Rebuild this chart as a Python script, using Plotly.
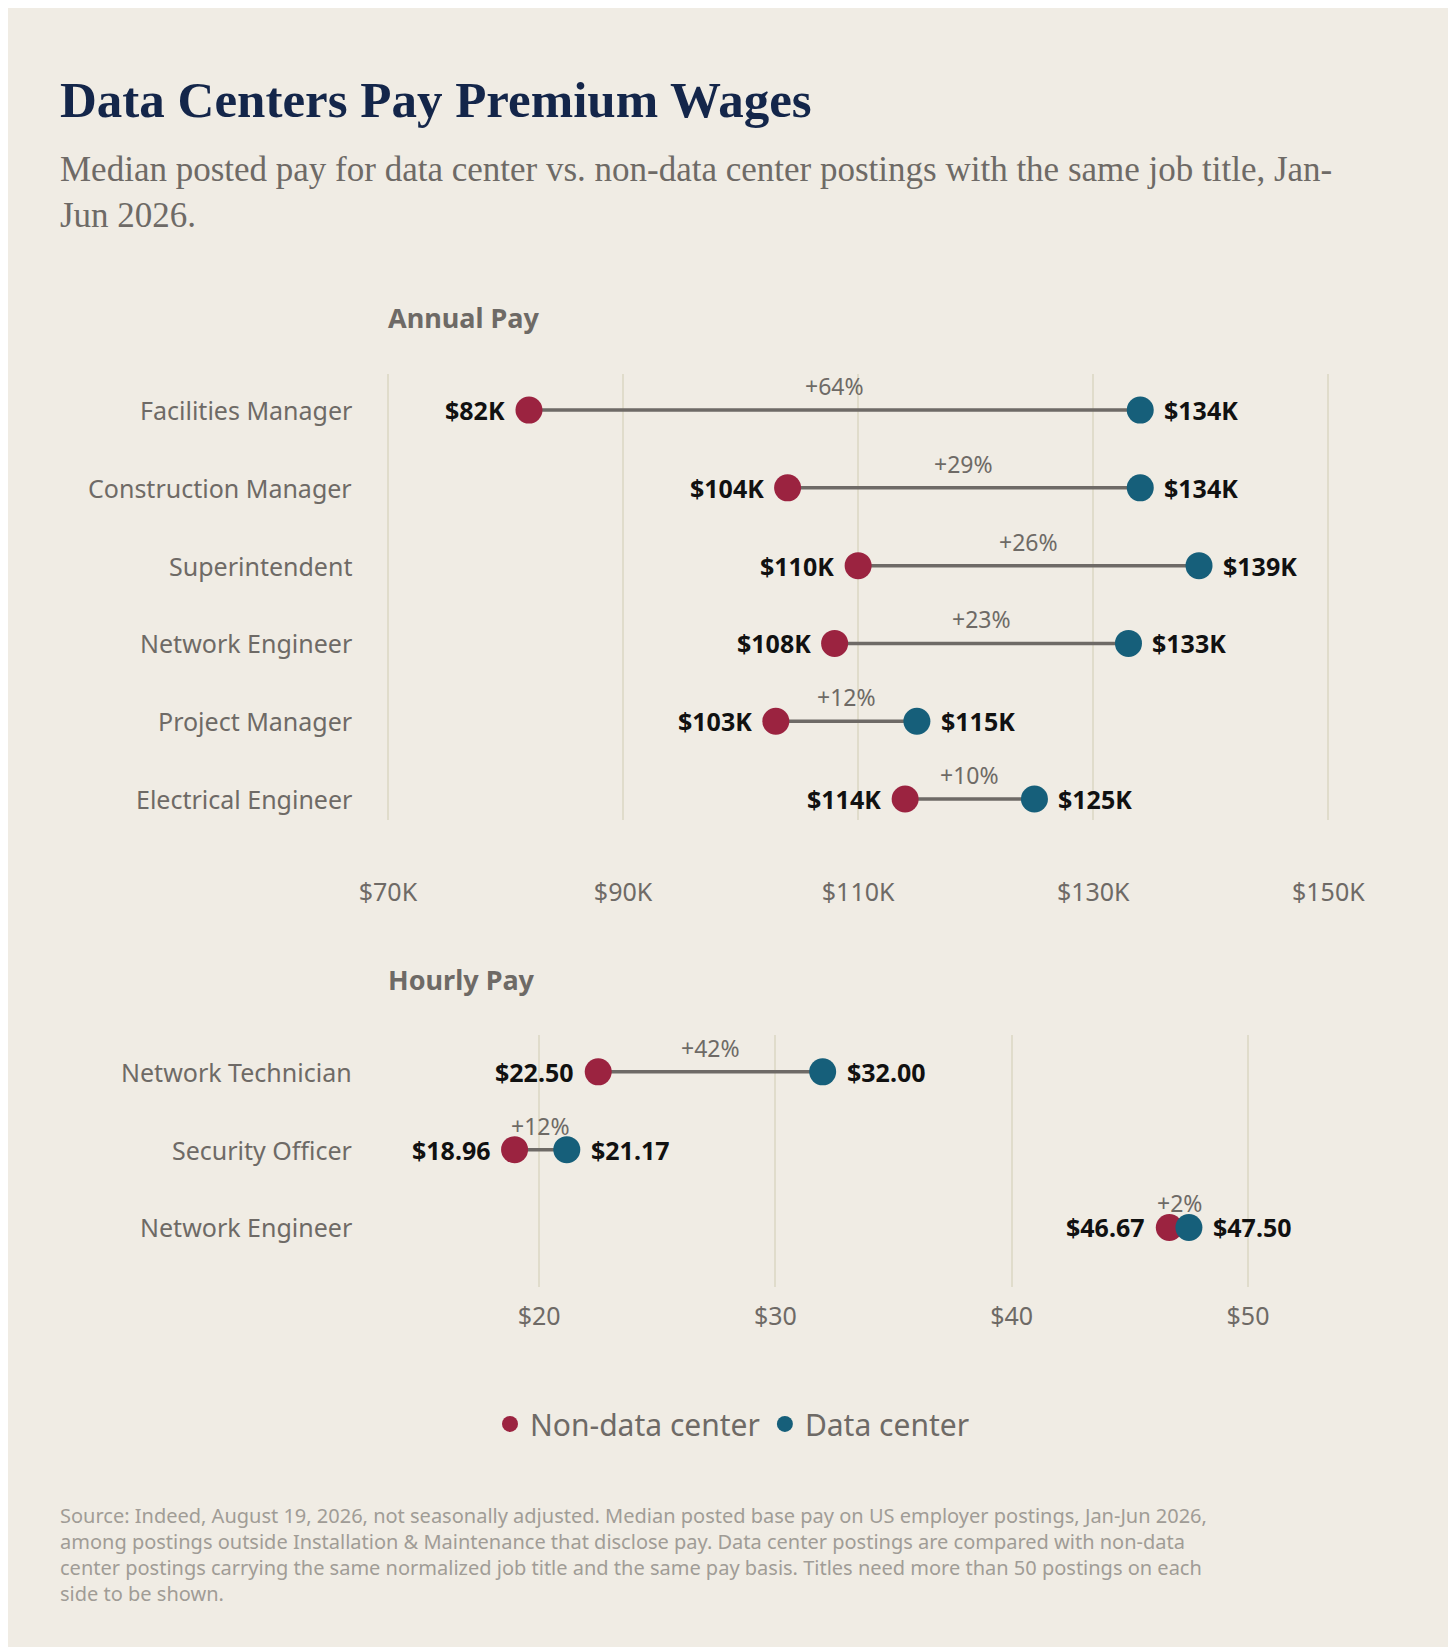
import plotly.graph_objects as go

annual_jobs = ["Facilities Manager", "Construction Manager", "Superintendent",
               "Network Engineer", "Project Manager", "Electrical Engineer"]
annual_non = [82, 104, 110, 108, 103, 114]
annual_dc = [134, 134, 139, 133, 115, 125]
annual_pct = ["+64%", "+29%", "+26%", "+23%", "+12%", "+10%"]

hourly_jobs = ["Network Technician", "Security Officer", "Network Engineer"]
hourly_non = [22.50, 18.96, 46.67]
hourly_dc = [32.00, 21.17, 47.50]
hourly_pct = ["+42%", "+12%", "+2%"]

BG = "#f0ece4"
RED = "#9b2340"
BLUE = "#165f7a"
LINE = "#6e6a66"
GRID = "#e0dccb"
SANS = "Noto Sans"
SERIF = "Liberation Serif"
X0, X1, XL, XT = 0.2513, 0.9288, 0.2286, 0.0167

fig = go.Figure()
annos = []


def add_panel(jobs, non, dc, pct, xa, ya, fmt):
    xref = "x" if xa == "xaxis" else "x2"
    yref = "y" if ya == "yaxis" else "y2"
    for i in range(len(jobs)):
        fig.add_trace(go.Scatter(x=[non[i], dc[i]], y=[i, i], mode="lines",
                                 line=dict(color=LINE, width=3.5), showlegend=False,
                                 xaxis=xref, yaxis=yref, hoverinfo="skip"))
        annos.append(dict(x=non[i], y=i, xref=xref, yref=yref, text=fmt(non[i]),
                          xanchor="right", xshift=-22, showarrow=False,
                          font=dict(family=SANS, size=25, color="#111", weight="bold")))
        annos.append(dict(x=dc[i], y=i, xref=xref, yref=yref, text=fmt(dc[i]),
                          xanchor="left", xshift=22, showarrow=False,
                          font=dict(family=SANS, size=25, color="#111", weight="bold")))
        annos.append(dict(x=(non[i] + dc[i]) / 2, y=i, xref=xref, yref=yref, text=pct[i],
                          yshift=24, showarrow=False,
                          font=dict(family=SANS, size=23, color="#6e6a66")))
        annos.append(dict(x=XL, xref="paper", y=i, yref=yref, text=jobs[i],
                          xanchor="right", showarrow=False,
                          font=dict(family=SANS, size=25, color="#6e6a66")))
    rows = list(range(len(jobs)))
    fig.add_trace(go.Scatter(x=non, y=rows, mode="markers", name="Non-data center",
                             marker=dict(color=RED, size=27), xaxis=xref, yaxis=yref,
                             showlegend=(xa == "xaxis")))
    fig.add_trace(go.Scatter(x=dc, y=rows, mode="markers", name="Data center",
                             marker=dict(color=BLUE, size=27), xaxis=xref, yaxis=yref,
                             showlegend=(xa == "xaxis")))


add_panel(annual_jobs, annual_non, annual_dc, annual_pct, "xaxis", "yaxis",
          lambda v: f"${v:.0f}K")
add_panel(hourly_jobs, hourly_non, hourly_dc, hourly_pct, "xaxis2", "yaxis2",
          lambda v: f"${v:.2f}")

H = 1568
annos += [
    dict(x=XT, y=1 - 88 / H, xref="paper", yref="paper", xanchor="left", yanchor="middle",
         text="<b>Data Centers Pay Premium Wages</b>", showarrow=False,
         font=dict(family=SERIF, size=51, color="#14264a")),
    dict(x=XT, y=1 - 133 / H, xref="paper", yref="paper", xanchor="left", yanchor="top",
         align="left", showarrow=False,
         text="Median posted pay for data center vs. non-data center postings with the same job title, Jan-<br>Jun 2026.",
         font=dict(family=SERIF, size=35, color="#6e6a66")),
    dict(x=X0, y=1 - 275 / H, xref="paper", yref="paper", xanchor="left", showarrow=False,
         text="<b>Annual Pay</b>", font=dict(family=SANS, size=27, color="#6e6a66")),
    dict(x=X0, y=1 - 925 / H, xref="paper", yref="paper", xanchor="left", showarrow=False,
         text="<b>Hourly Pay</b>", font=dict(family=SANS, size=27, color="#6e6a66")),
    dict(x=XT, y=1 - 1420 / H, xref="paper", yref="paper", xanchor="left", yanchor="top",
         align="left", showarrow=False,
         text="Source: Indeed, August 19, 2026, not seasonally adjusted. Median posted base pay on US employer postings, Jan-Jun 2026,<br>"
              "among postings outside Installation &amp; Maintenance that disclose pay. Data center postings are compared with non-data<br>"
              "center postings carrying the same normalized job title and the same pay basis. Titles need more than 50 postings on each<br>"
              "side to be shown.",
         font=dict(family=SANS, size=20, color="#a09c96")),
]

axis_common = dict(showgrid=True, gridcolor=GRID, gridwidth=2, zeroline=False,
                   showline=False, tickfont=dict(family=SANS, size=25, color="#6e6a66"))

fig.update_layout(
    width=1456, height=1647,
    paper_bgcolor=BG, plot_bgcolor=BG,
    margin=dict(l=0, r=0, t=0, b=0),
    annotations=annos,
    xaxis=dict(domain=[X0, X1], range=[69.8, 150.2], tickvals=[70, 90, 110, 130, 150],
               ticktext=["$70K", "$90K", "$110K", "$130K", "$150K"], anchor="y",
               ticklabelstandoff=55, **axis_common),
    yaxis=dict(domain=[1 - 773 / H, 1 - 348 / H], range=[5.27, -0.47], visible=False),
    xaxis2=dict(domain=[X0, X1], range=[13.5, 53.5], tickvals=[20, 30, 40, 50],
                ticktext=["$20", "$30", "$40", "$50"], anchor="y2",
                ticklabelstandoff=12, **axis_common),
    yaxis2=dict(domain=[1 - 1218 / H, 1 - 978 / H], range=[2.77, -0.47], visible=False),
    legend=dict(orientation="h", x=0.5, xanchor="center", y=1 - 1348 / H, yanchor="middle",
                font=dict(family=SANS, size=30, color="#6e6a66"), bgcolor="rgba(0,0,0,0)",
                itemsizing="trace"),
)

fig.write_html("out.html")
